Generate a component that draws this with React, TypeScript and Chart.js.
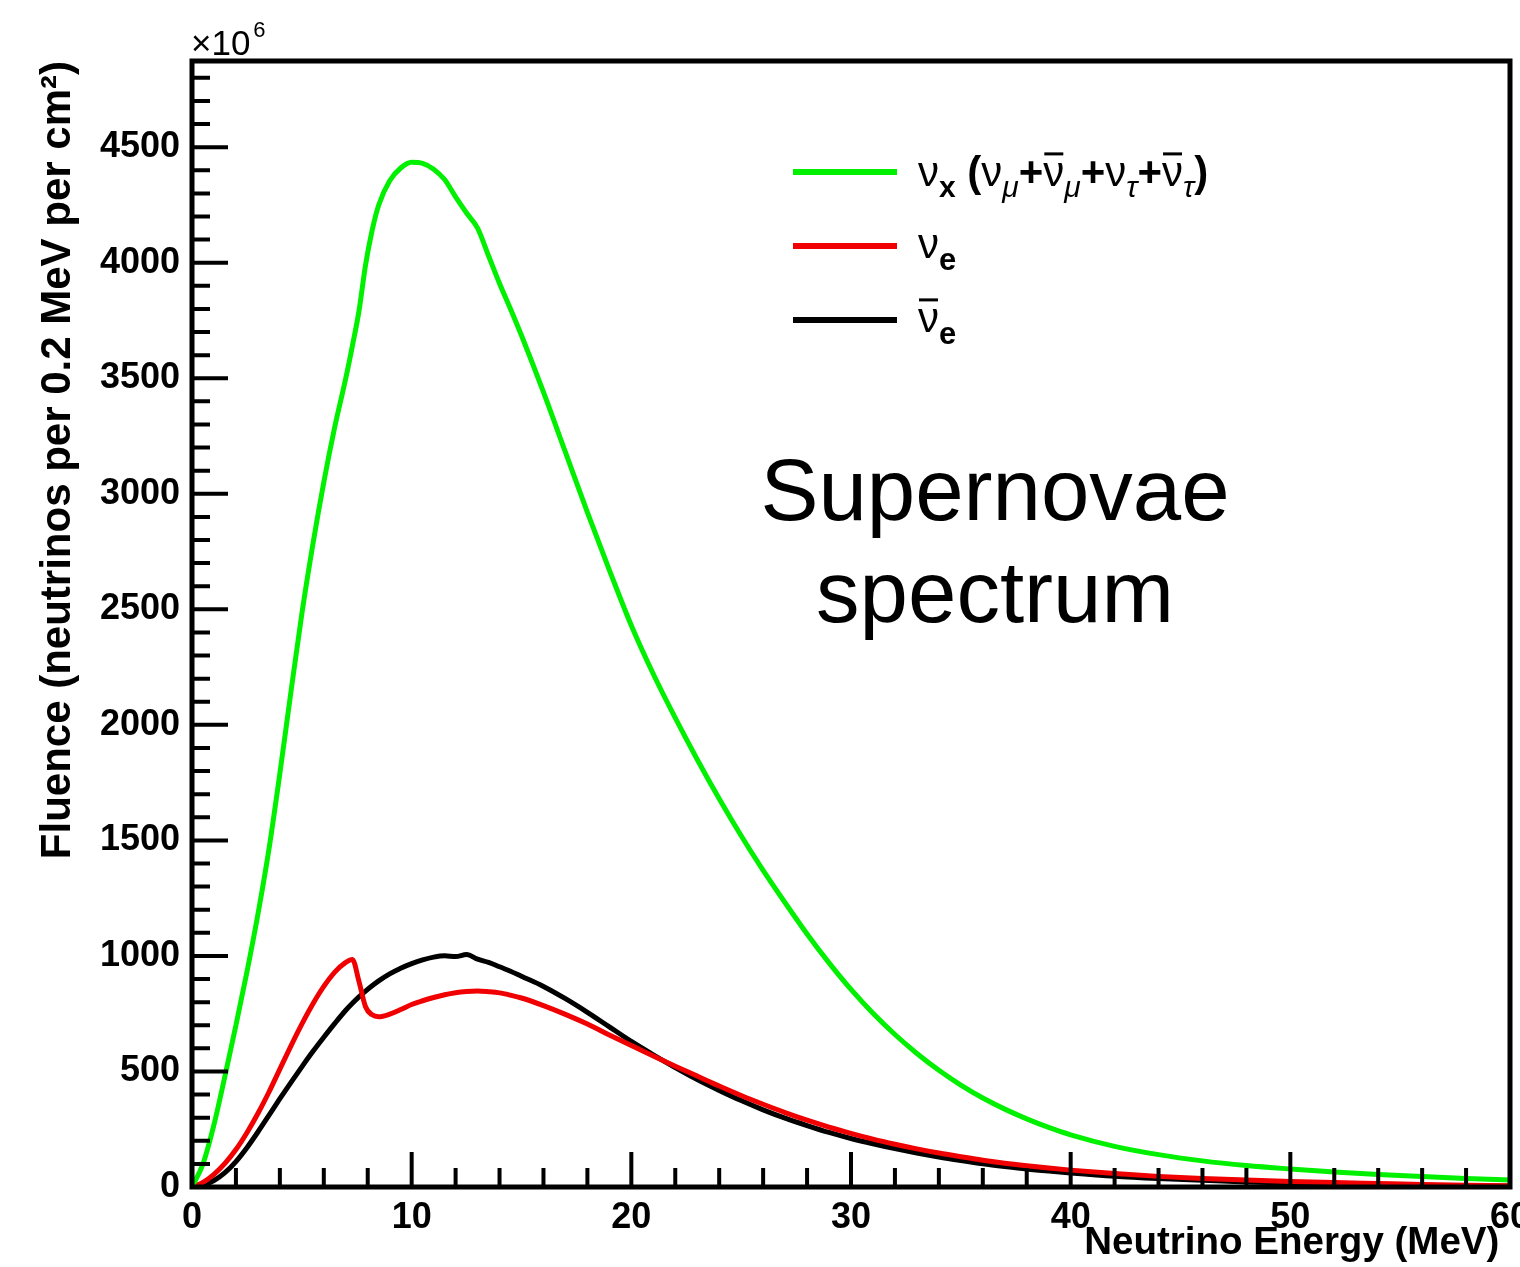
import React, { useEffect, useRef } from 'react';
import { Chart, registerables } from 'chart.js';

Chart.register(...registerables);

// ---------------- data ----------------
const energyMeV = [
  0, 0.5, 1, 1.5, 2, 2.5, 3, 3.5, 4, 4.5, 5, 5.5, 6, 6.5, 7, 7.3, 7.6, 7.9, 8.2, 8.5,
  9, 9.5, 10, 10.5, 11, 11.5, 12, 12.5, 13, 13.5, 14, 14.5, 15, 16, 17, 18, 19, 20,
  21, 22, 23, 24, 25, 26, 27, 28, 29, 30, 31, 32, 33, 34, 35, 36, 37, 38, 39, 40,
  42, 44, 46, 48, 50, 52, 54, 56, 58, 60,
];

// nu_x (nu_mu + anti-nu_mu + nu_tau + anti-nu_tau), units of 1e6
const fluenceNuX = [
  0, 100, 270, 480, 700, 930, 1180, 1460, 1790, 2140, 2480, 2780, 3050, 3290, 3500, 3640, 3790, 3990, 4140, 4250,
  4355, 4410, 4435, 4430, 4405, 4360, 4285, 4215, 4150, 4030, 3910, 3800, 3685, 3440, 3180, 2920, 2670, 2430,
  2220, 2030, 1850, 1680, 1520, 1370, 1230, 1095, 970, 855, 752, 660, 578, 505, 441, 385, 337, 295, 258, 226,
  176, 140, 113, 93, 78, 65, 54, 45, 37, 30,
];

// nu_e
const fluenceNuE = [
  0, 20, 55, 102, 162, 235, 318, 410, 510, 610, 705, 792, 868, 930, 972, 985, 890, 780, 745, 737,
  748, 768, 790, 806, 820, 832, 841, 846, 848, 845, 840, 830, 818, 785, 747, 705, 658, 612,
  567, 523, 480, 437, 396, 358, 322, 289, 259, 232, 207, 185, 165, 147, 131, 116, 103, 92, 82, 73,
  58, 46, 37, 30, 24, 19, 15, 11, 8, 5,
];

// anti-nu_e
const fluenceNuEBar = [
  0, 8, 28, 62, 110, 170, 238, 310, 382, 452, 520, 586, 648, 708, 765, 795, 823, 848, 871, 892,
  922, 947, 967, 983, 995, 1001, 997, 1006, 986, 972, 953, 934, 912, 868, 815, 756, 693, 630,
  572, 517, 465, 418, 374, 334, 298, 266, 236, 210, 187, 166, 147, 130, 115, 101, 89, 78, 69, 61,
  47, 37, 29, 22, 17, 13, 10, 7, 5, 3,
];

const xTickLabels = [0, 10, 20, 30, 40, 50, 60];
const yTickLabels = [0, 500, 1000, 1500, 2000, 2500, 3000, 3500, 4000, 4500];
const X_MIN = 0;
const X_MAX = 60;
const Y_MIN = 0;
const Y_MAX = 4873;
const X_MINOR_STEP = 2;
const Y_MINOR_STEP = 100;

const GREEN = '#00f000';
const RED = '#f00000';
const BLACK = '#000000';
const FONT = '"Liberation Sans", Arial, Helvetica, sans-serif';

type Part = { t: string; size: number; bold?: boolean; italic?: boolean; dy?: number; bar?: boolean };

function drawRich(ctx: CanvasRenderingContext2D, x: number, baseline: number, parts: Part[]) {
  let cx = x;
  for (const p of parts) {
    ctx.font = `${p.italic ? 'italic ' : ''}${p.bold ? 'bold ' : ''}${p.size}px ${FONT}`;
    const w = ctx.measureText(p.t).width;
    const y = baseline + (p.dy || 0);
    ctx.fillText(p.t, cx, y);
    if (p.bar) {
      ctx.fillRect(cx + 1, y - p.size * 0.8, w - 2, 3);
    }
    cx += w;
  }
  return cx;
}

const framePlugin = {
  id: 'rootFrame',
  afterDatasetsDraw(chart: any) {
    const { ctx, chartArea } = chart;
    const xs = chart.scales.x;
    const ys = chart.scales.y;
    const { left, right, top, bottom } = chartArea;
    ctx.save();
    ctx.strokeStyle = '#000';
    ctx.fillStyle = '#000';
    // ticks drawn inside the frame
    ctx.lineWidth = 4;
    ctx.beginPath();
    for (let v = Y_MIN; v <= Y_MAX; v += Y_MINOR_STEP) {
      const py = ys.getPixelForValue(v);
      const major = v % 500 === 0;
      ctx.moveTo(left, py);
      ctx.lineTo(left + (major ? 36 : 18), py);
    }
    for (let v = X_MIN; v <= X_MAX; v += X_MINOR_STEP) {
      const px = xs.getPixelForValue(v);
      const major = v % 10 === 0;
      ctx.moveTo(px, bottom);
      ctx.lineTo(px, bottom - (major ? 35 : 19));
    }
    ctx.stroke();
    // frame
    ctx.lineWidth = 5;
    ctx.strokeRect(left, top, right - left, bottom - top);

    // x10^6 multiplier
    ctx.textBaseline = 'alphabetic';
    ctx.textAlign = 'left';
    const ex = drawRich(ctx, 191, 55, [{ t: '\u00d710', size: 35 }]);
    drawRich(ctx, ex + 3, 37, [{ t: '6', size: 22 }]);

    // legend
    const legendRows = [
      { color: GREEN, y: 172 },
      { color: RED, y: 246 },
      { color: BLACK, y: 320 },
    ];
    ctx.lineWidth = 6;
    for (const r of legendRows) {
      ctx.strokeStyle = r.color;
      ctx.beginPath();
      ctx.moveTo(793, r.y);
      ctx.lineTo(897, r.y);
      ctx.stroke();
    }
    ctx.fillStyle = '#000';
    const M = 42;
    const S = 30;
    drawRich(ctx, 918, 186, [
      { t: '\u03bd', size: M },
      { t: 'x', size: S, bold: true, dy: 11 },
      { t: ' (', size: M, bold: true },
      { t: '\u03bd', size: M },
      { t: '\u03bc', size: S, italic: true, dy: 11 },
      { t: '+', size: M, bold: true },
      { t: '\u03bd', size: M, bar: true },
      { t: '\u03bc', size: S, italic: true, dy: 11 },
      { t: '+', size: M, bold: true },
      { t: '\u03bd', size: M },
      { t: '\u03c4', size: S, italic: true, dy: 11 },
      { t: '+', size: M, bold: true },
      { t: '\u03bd', size: M, bar: true },
      { t: '\u03c4', size: S, italic: true, dy: 11 },
      { t: ')', size: M, bold: true },
    ]);
    drawRich(ctx, 918, 258, [
      { t: '\u03bd', size: M },
      { t: 'e', size: 31, bold: true, dy: 12 },
    ]);
    drawRich(ctx, 918, 332, [
      { t: '\u03bd', size: M, bar: true },
      { t: 'e', size: 31, bold: true, dy: 12 },
    ]);

    // annotation
    ctx.font = `87px ${FONT}`;
    ctx.textAlign = 'center';
    ctx.fillText('Supernovae', 995, 520);
    ctx.fillText('spectrum', 995, 622);
    ctx.restore();
  },
};

export default function App() {
  const canvasRef = useRef<HTMLCanvasElement | null>(null);

  useEffect(() => {
    document.body.style.margin = '0';
    const canvas = canvasRef.current;
    if (!canvas) return;
    const toPoints = (vals: number[]) => energyMeV.map((e, i) => ({ x: e, y: vals[i] }));
    const chart = new Chart(canvas, {
      type: 'line',
      data: {
        datasets: [
          {
            label: '\u03bdx (\u03bd\u03bc+\u03bd\u0304\u03bc+\u03bd\u03c4+\u03bd\u0304\u03c4)',
            data: toPoints(fluenceNuX),
            borderColor: GREEN,
            borderWidth: 5,
            pointRadius: 0,
            cubicInterpolationMode: 'monotone',
            fill: false,
          },
          {
            label: '\u03bde',
            data: toPoints(fluenceNuE),
            borderColor: RED,
            borderWidth: 5,
            pointRadius: 0,
            cubicInterpolationMode: 'monotone',
            fill: false,
          },
          {
            label: '\u03bd\u0304e',
            data: toPoints(fluenceNuEBar),
            borderColor: BLACK,
            borderWidth: 5,
            pointRadius: 0,
            cubicInterpolationMode: 'monotone',
            fill: false,
          },
        ],
      },
      options: {
        animation: false,
        responsive: false,
        devicePixelRatio: 1,
        layout: { padding: { left: 0, top: 61, right: 10, bottom: 0 }, autoPadding: false },
        plugins: { legend: { display: false }, tooltip: { enabled: false } },
        scales: {
          x: {
            type: 'linear',
            min: X_MIN,
            max: X_MAX,
            grid: { display: false, drawTicks: false },
            border: { display: false },
            afterBuildTicks: (s: any) => {
              s.ticks = xTickLabels.map((v) => ({ value: v }));
            },
            afterFit: (s: any) => {
              s.height = 80;
              s.paddingLeft = 0;
              s.paddingRight = 0;
            },
            ticks: {
              font: { family: FONT, size: 36, weight: 'bold' },
              color: '#000',
              padding: 9,
              maxRotation: 0,
              autoSkip: false,
              callback: (v: any) => String(v),
            },
            title: {
              display: true,
              text: 'Neutrino Energy (MeV) ',
              align: 'end',
              font: { family: FONT, size: 38.5, weight: 'bold' },
              color: '#000',
              padding: { top: 0, bottom: 1 },
            },
          },
          y: {
            type: 'linear',
            min: Y_MIN,
            max: Y_MAX,
            grid: { display: false, drawTicks: false },
            border: { display: false },
            afterBuildTicks: (s: any) => {
              s.ticks = yTickLabels.map((v) => ({ value: v }));
            },
            afterFit: (s: any) => {
              s.width = 192;
              s.paddingTop = 0;
              s.paddingBottom = 0;
            },
            ticks: {
              font: { family: FONT, size: 36, weight: 'bold' },
              color: '#000',
              padding: 12,
              autoSkip: false,
              callback: (v: any) => String(v),
            },
            title: {
              display: true,
              text: 'Fluence (neutrinos per 0.2 MeV per cm\u00b2)',
              align: 'end',
              font: { family: FONT, size: 42, weight: 'bold' },
              color: '#000',
              padding: { top: 33, bottom: 0 },
            },
          },
        },
      },
      plugins: [framePlugin],
    } as any);
    return () => chart.destroy();
  }, []);

  return (
    <div style={{ width: 1520, height: 1267, position: 'relative', background: '#fff' }}>
      <canvas ref={canvasRef} width={1520} height={1267} style={{ display: 'block' }} />
    </div>
  );
}
